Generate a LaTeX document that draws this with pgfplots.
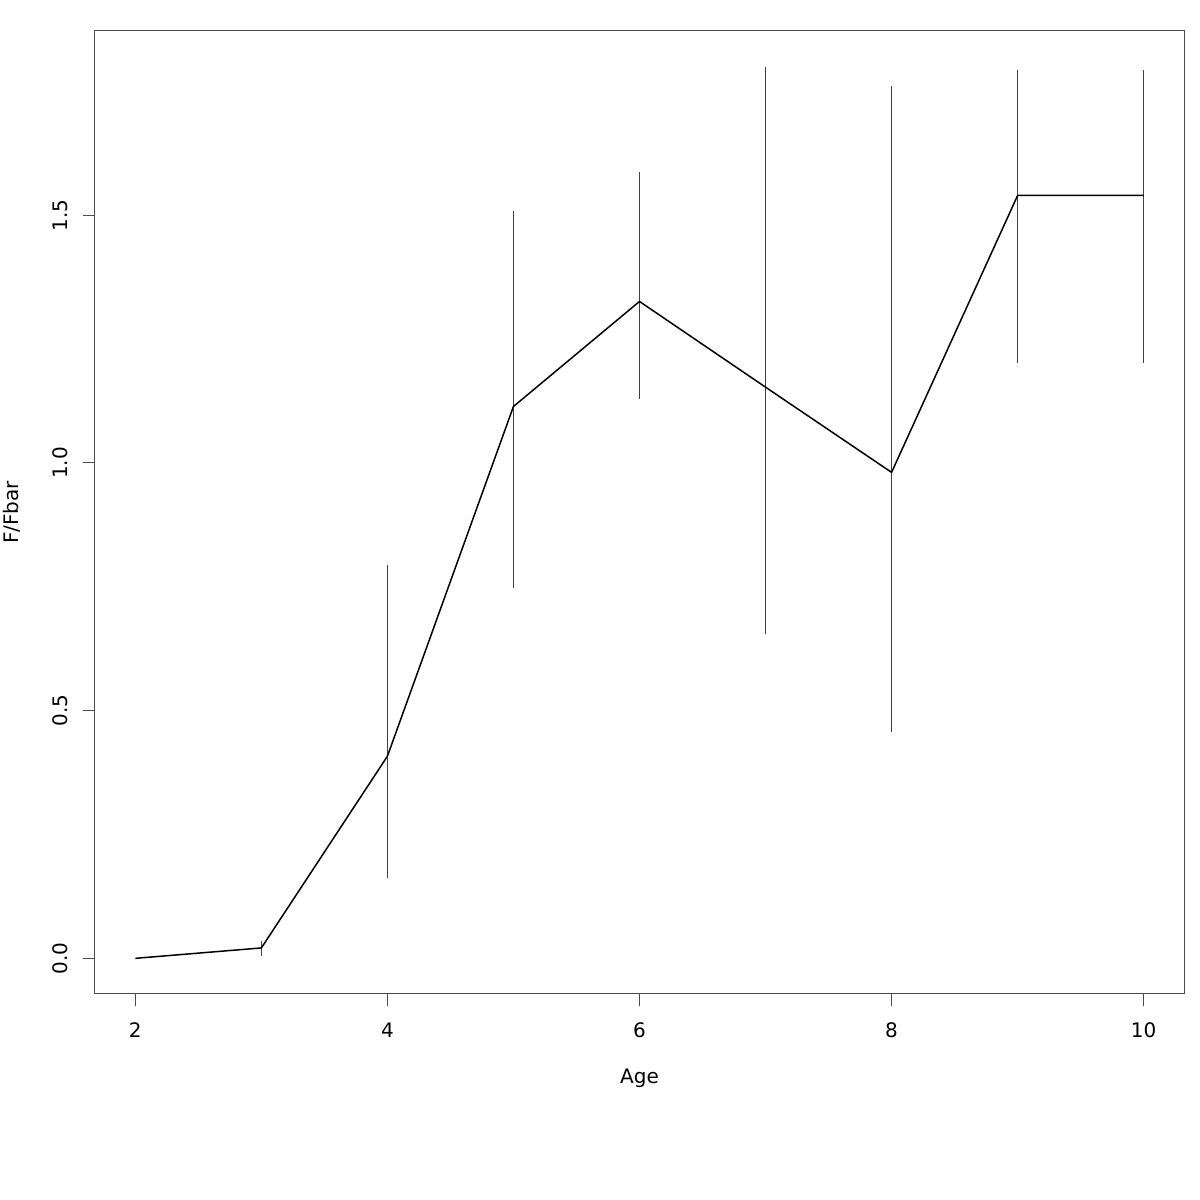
\documentclass[border=0pt]{standalone}
\usepackage{pgfplots}
\pgfplotsset{compat=1.18}
\usepackage{pgfplotstable}
\usepackage{fontspec}
\setmainfont{DejaVu Sans}
\pgfplotstableread{
x y lo hi
2 0.000 0.000 0.000
3 0.021 0.005 0.035
4 0.408 0.162 0.795
5 1.114 0.747 1.508
6 1.326 1.129 1.587
7 1.153 0.654 1.799
8 0.981 0.456 1.761
9 1.540 1.201 1.793
10 1.540 1.201 1.793
}\datatab
\pgfplotstablecreatecol[expr={\thisrow{hi}-\thisrow{y}}]{ep}{\datatab}
\pgfplotstablecreatecol[expr={\thisrow{y}-\thisrow{lo}}]{em}{\datatab}
\begin{document}
\begin{tikzpicture}
\useasboundingbox (0,0) rectangle (600pt,600pt);
\begin{axis}[
  at={(47.5pt,103pt)}, anchor=south west,
  scale only axis, width=544.5pt, height=481.5pt,
  xmin=1.68, xmax=10.32, ymin=-0.072, ymax=1.872,
  axis line style={black!70, line width=0.5pt},
  tick align=outside, major tick length=6pt,
  tick style={black!70, line width=0.5pt},
  xtick={2,4,6,8,10}, ytick={0,0.5,1,1.5},
  xtick pos=bottom, ytick pos=left,
  /pgf/number format/assume math mode=true,
  yticklabel style={/pgf/number format/fixed, /pgf/number format/fixed zerofill, /pgf/number format/precision=1,
    rotate=90, anchor=center, yshift=11.5pt, font=\fontsize{10pt}{12pt}\selectfont},
  xticklabel style={anchor=center, yshift=-12pt, font=\fontsize{10pt}{12pt}\selectfont},
  xlabel={Age}, ylabel={F/Fbar},
  label style={font=\fontsize{10pt}{12pt}\selectfont},
  xlabel style={at={(axis description cs:0.5,0)}, anchor=center, yshift=-42pt},
  ylabel style={at={(axis description cs:0,0.5)}, anchor=center, yshift=41.5pt},
  clip=false,
]
\addplot[draw=none, mark=none, forget plot,
  error bars/.cd, y dir=both, y explicit, error mark=none,
  error bar style={line width=0.5pt, color=black!75}]
  table[x=x, y=y, y error plus=ep, y error minus=em] {\datatab};
\addplot[black, line width=0.75pt, mark=none] table[x=x, y=y] {\datatab};
\end{axis}
\end{tikzpicture}
\end{document}
